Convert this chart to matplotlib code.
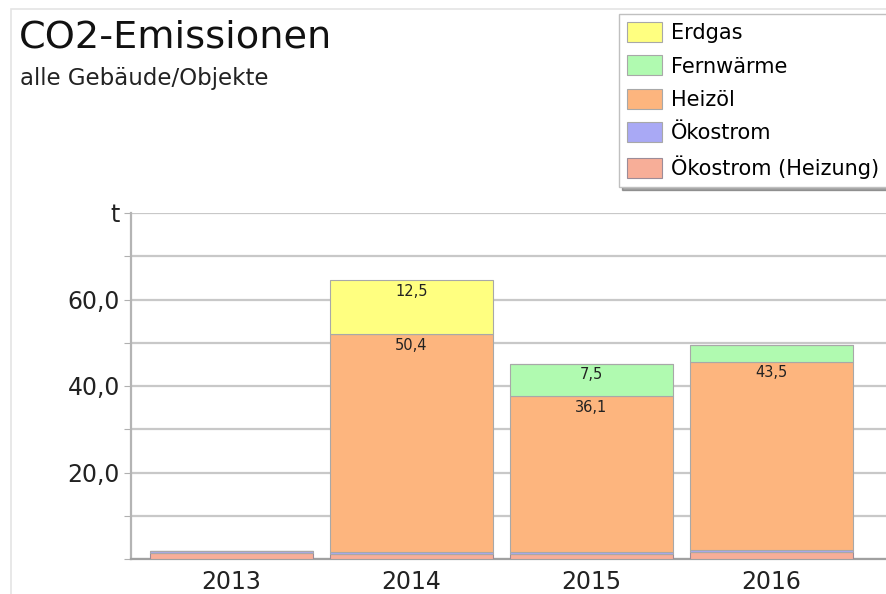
import numpy as np
import matplotlib.pyplot as plt
from matplotlib.patches import Rectangle

plt.rcParams['font.family'] = ['DejaVu Sans']

years = ['2013', '2014', '2015', '2016']
# stacked from bottom to top
series = ['Ökostrom (Heizung)', 'Ökostrom', 'Heizöl', 'Fernwärme', 'Erdgas']
oekostrom_heizung = [1.4, 1.1, 1.1, 1.6]
oekostrom = [0.5, 0.5, 0.5, 0.5]
heizoel = [0.0, 50.4, 36.1, 43.5]
fernwaerme = [0.0, 0.0, 7.5, 3.9]
erdgas = [0.0, 12.5, 0.0, 0.0]
colors = {
    'Erdgas': '#FFFF80',
    'Fernwärme': '#B0FAB0',
    'Heizöl': '#FDB57E',
    'Ökostrom': '#A9A9F5',
    'Ökostrom (Heizung)': '#F7AE98',
}
legend_order = ['Erdgas', 'Fernwärme', 'Heizöl', 'Ökostrom', 'Ökostrom (Heizung)']
label_min = 5.0

values = {
    'Ökostrom (Heizung)': oekostrom_heizung,
    'Ökostrom': oekostrom,
    'Heizöl': heizoel,
    'Fernwärme': fernwaerme,
    'Erdgas': erdgas,
}

fig = plt.figure(figsize=(8.86, 5.94), dpi=100)
ax = fig.add_axes([131 / 886, 35 / 594, 755 / 886, 346 / 594])

x = np.arange(len(years))
bottom = np.zeros(len(years))
handles = {}
for name in series:
    v = np.array(values[name])
    # thin bottom segments look greyish in the original
    ec = '#9c8c98' if name.startswith('Ökostrom (') else '#a8a8a8'
    bars = ax.bar(x, v, width=0.905, bottom=bottom, color=colors[name],
                  edgecolor=ec, linewidth=0.8, zorder=3)
    handles[name] = bars
    for xi, vi, bi in zip(x, v, bottom):
        if vi >= label_min:
            ax.annotate(f'{vi:.1f}'.replace('.', ','), (xi, bi + vi),
                        xytext=(0, -8), textcoords='offset points',
                        ha='center', va='center', fontsize=10.5, color='#222222',
                        zorder=4)
    bottom += v

ax.set_xlim(-0.558, 3.636)
ax.set_ylim(0, 80)
ax.set_xticks(x)
ax.set_xticklabels(years, fontsize=17, color='#222222')
yt = np.arange(0, 81, 10)
ax.set_yticks(yt)
ylabels = []
for t in yt:
    if t == 80:
        ylabels.append('t')
    elif t in (20, 40, 60):
        ylabels.append(f'{t:.1f}'.replace('.', ','))
    else:
        ylabels.append('')
ax.set_yticklabels(ylabels, fontsize=17, color='#222222')
ax.tick_params(axis='y', length=5, color='#b0b0b0', pad=3)
ax.tick_params(axis='x', length=0, pad=8)
ax.grid(axis='y', color='#c8c8c8', linewidth=1.6, zorder=0)
for s in ['top', 'right']:
    ax.spines[s].set_visible(False)
ax.spines['left'].set_color('#b4b4b4')
ax.spines['left'].set_linewidth(1.6)
ax.spines['bottom'].set_color('#a0a0a0')
ax.spines['bottom'].set_linewidth(1.6)

# outer frame of the panel
fig.patches.append(Rectangle((11 / 886, -0.05), 1.2, 1 - 9 / 594 + 0.05,
                             transform=fig.transFigure, fill=False,
                             edgecolor='#e4e4e4', linewidth=1.2))

fig.text(19 / 886, 1 - 37 / 594, 'CO2-Emissionen', fontsize=27.5,
         va='center', ha='left', color='#111111')
fig.text(20 / 886, 1 - 79 / 594, 'alle Gebäude/Objekte', fontsize=16.5,
         va='center', ha='left', color='#222222')

leg = fig.legend([handles[n] for n in legend_order], legend_order,
                 loc='upper left', bbox_to_anchor=(619 / 886, 1 - 14 / 594),
                 fontsize=15, frameon=True, fancybox=False, shadow=True,
                 handlelength=1.65, handleheight=1.1, handletextpad=0.45,
                 labelspacing=0.58, borderpad=0.4, borderaxespad=0)
leg.get_frame().set_edgecolor('#c0c0c0')
leg.get_frame().set_linewidth(1.0)

fig.savefig('out.png', dpi=100)
